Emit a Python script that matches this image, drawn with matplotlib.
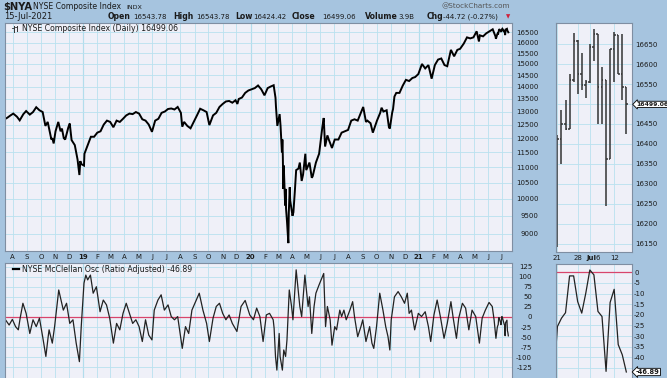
import matplotlib
matplotlib.use("Agg")
import matplotlib.pyplot as plt
import matplotlib.transforms as mtrans
import pandas as pd
from matplotlib.ticker import FixedLocator, NullLocator, FuncFormatter

W, H = 667, 378

# ---- NYSE Composite closes (irregular dates) ----
PRICE_2018 = [("07-17", 12730), ("07-20", 12760), ("07-27", 12850), ("08-02", 12920),
              ("08-10", 12800), ("08-16", 12660), ("08-24", 12900), ("08-30", 13020),
              ("09-07", 12880), ("09-14", 12980), ("09-21", 13170), ("09-28", 13050),
              ("10-05", 12980), ("10-11", 12450), ("10-16", 12600), ("10-19", 12350),
              ("10-24", 11950), ("10-26", 12000), ("10-29", 11810), ("11-02", 12250),
              ("11-08", 12600), ("11-13", 12250), ("11-16", 12350), ("11-20", 12000),
              ("11-23", 11950), ("11-30", 12400), ("12-03", 12540), ("12-07", 11930),
              ("12-14", 11750), ("12-20", 11250), ("12-24", 10740), ("12-26", 11200),
              ("12-28", 11100)]
PRICE_2019 = [("01-03", 11050), ("01-04", 11450), ("01-11", 11750), ("01-18", 12050),
              ("01-25", 12050), ("02-01", 12200), ("02-08", 12250), ("02-15", 12500),
              ("02-22", 12650), ("03-01", 12600), ("03-08", 12400), ("03-15", 12650),
              ("03-22", 12600), ("03-29", 12720), ("04-05", 12850), ("04-12", 12920),
              ("04-19", 12900), ("04-26", 12980), ("05-03", 12920), ("05-10", 12700),
              ("05-17", 12650), ("05-24", 12500), ("05-31", 12230), ("06-07", 12650),
              ("06-14", 12720), ("06-21", 12950), ("06-28", 13000), ("07-05", 13100),
              ("07-12", 13120), ("07-19", 13080), ("07-26", 13180), ("08-02", 12950),
              ("08-05", 12420), ("08-09", 12600), ("08-16", 12450), ("08-23", 12360),
              ("08-30", 12600), ("09-06", 12850), ("09-13", 13110), ("09-20", 13050),
              ("09-27", 12980), ("10-03", 12480), ("10-11", 12850), ("10-18", 12950),
              ("10-25", 13180), ("11-01", 13300), ("11-08", 13400), ("11-15", 13420),
              ("11-22", 13350), ("11-29", 13450), ("12-03", 13300), ("12-06", 13500),
              ("12-13", 13560), ("12-20", 13750), ("12-27", 13850)]
PRICE_2020 = [("01-03", 13900), ("01-10", 13950), ("01-17", 14060), ("01-24", 13900),
              ("01-31", 13650), ("02-07", 13950), ("02-14", 14020), ("02-20", 14070),
              ("02-24", 13550), ("02-25", 13200), ("02-27", 12700), ("02-28", 12450),
              ("03-04", 12900), ("03-06", 12450), ("03-09", 11500), ("03-10", 11950),
              ("03-11", 11350), ("03-12", 10300), ("03-13", 11050), ("03-16", 9800),
              ("03-17", 10300), ("03-18", 9700), ("03-20", 9350), ("03-23", 8750),
              ("03-24", 9600), ("03-26", 10350), ("03-27", 9950), ("04-01", 9500),
              ("04-03", 9600), ("04-06", 10200), ("04-09", 10900), ("04-14", 10950),
              ("04-17", 11150), ("04-21", 10550), ("04-24", 10750), ("04-29", 11450),
              ("05-01", 10900), ("05-08", 11150), ("05-13", 10650), ("05-15", 10700),
              ("05-22", 11150), ("05-29", 11450), ("06-05", 12400), ("06-08", 12750),
              ("06-11", 11700), ("06-16", 12100), ("06-19", 11950), ("06-26", 11650),
              ("07-02", 11950), ("07-10", 11950), ("07-17", 12200), ("07-24", 12250),
              ("07-31", 12300), ("08-07", 12650), ("08-14", 12700), ("08-21", 12650),
              ("08-28", 12950), ("09-02", 13180), ("09-08", 12600), ("09-11", 12650),
              ("09-18", 12550), ("09-23", 12200), ("10-02", 12650), ("10-09", 12950),
              ("10-12", 13150), ("10-16", 13000), ("10-23", 13050), ("10-28", 12400),
              ("10-30", 12350), ("11-04", 12950), ("11-06", 13100), ("11-09", 13600),
              ("11-13", 13750), ("11-20", 13750), ("11-27", 14050), ("12-04", 14300),
              ("12-11", 14250), ("12-18", 14380), ("12-24", 14420), ("12-31", 14550)]
PRICE_2021 = [("01-08", 15000), ("01-15", 14800), ("01-22", 14950), ("01-29", 14350),
              ("02-05", 14950), ("02-12", 15200), ("02-19", 15250), ("02-26", 14950),
              ("03-04", 14900), ("03-12", 15650), ("03-19", 15350), ("03-26", 15650),
              ("04-01", 15700), ("04-09", 15950), ("04-16", 16250), ("04-23", 16200),
              ("04-30", 16250), ("05-07", 16550), ("05-12", 16050), ("05-14", 16350),
              ("05-21", 16300), ("05-28", 16450), ("06-04", 16550), ("06-11", 16650),
              ("06-17", 16300), ("06-18", 16180)]

# ---- McClellan oscillator turning points ----
OSC_2018 = [("07-16", -7), ("07-24", -20), ("07-31", -6), ("08-07", -24), ("08-13", -32),
            ("08-17", -3), ("08-23", 34), ("08-30", 9), ("09-07", -41), ("09-14", -7),
            ("09-21", -24), ("09-28", -3), ("10-05", -49), ("10-12", -98), ("10-17", -49),
            ("10-19", -32), ("10-26", -65), ("10-31", -24), ("11-05", 26), ("11-09", 67),
            ("11-19", 17), ("11-26", 34), ("12-03", -16), ("12-10", -7), ("12-17", -65),
            ("12-24", -111), ("12-28", -24)]
OSC_2019 = [("01-03", 84), ("01-07", 104), ("01-11", 92), ("01-17", 104), ("01-23", 59),
            ("01-30", 75), ("02-07", 13), ("02-14", 42), ("02-21", 30), ("02-28", -3),
            ("03-08", -65), ("03-15", -16), ("03-22", -32), ("03-29", 9), ("04-05", 34),
            ("04-12", 9), ("04-19", -16), ("04-26", -7), ("05-03", -24), ("05-10", -61),
            ("05-17", -7), ("05-24", -45), ("05-31", -57), ("06-05", 17), ("06-13", 42),
            ("06-20", 55), ("06-27", 17), ("07-05", 30), ("07-12", 1), ("07-19", -7),
            ("07-26", 1), ("08-05", -78), ("08-12", -24), ("08-19", -41), ("08-26", 17),
            ("09-03", 38), ("09-11", 59), ("09-19", 17), ("09-27", -16), ("10-03", -61),
            ("10-11", -3), ("10-18", 26), ("10-25", 34), ("11-01", 9), ("11-08", -7),
            ("11-15", 5), ("11-22", -16), ("12-02", -36), ("12-11", 26), ("12-20", 41),
            ("12-30", 5)]
OSC_2020 = [("01-07", -7), ("01-14", 22), ("01-21", 1), ("01-28", -61), ("02-04", 5),
            ("02-11", 9), ("02-19", -7), ("02-21", -28), ("02-24", -98), ("02-27", -132),
            ("03-03", -41), ("03-05", -98), ("03-10", -132), ("03-13", -82), ("03-17", -98),
            ("03-20", -57), ("03-25", 67), ("03-30", 26), ("04-02", -7), ("04-09", 117),
            ("04-14", 59), ("04-17", 26), ("04-21", 1), ("04-28", 104), ("05-05", 26),
            ("05-08", 50), ("05-13", -41), ("05-18", 26), ("05-22", 59), ("05-29", 80),
            ("06-08", 108), ("06-12", -24), ("06-16", 26), ("06-22", -7), ("06-26", -70),
            ("07-02", -24), ("07-06", -32), ("07-13", 17), ("07-17", 1), ("07-22", 17),
            ("07-27", -7), ("08-04", 17), ("08-10", 38), ("08-14", 1), ("08-21", -49),
            ("08-28", -24), ("09-01", -7), ("09-08", -61), ("09-16", -24), ("09-21", -65),
            ("09-25", -78), ("10-01", -24), ("10-08", 59), ("10-15", 17), ("10-21", -24),
            ("10-26", -49), ("10-30", -82), ("11-02", -7), ("11-09", 50), ("11-17", 63),
            ("11-24", 50), ("12-01", 34), ("12-07", 59), ("12-11", 9), ("12-16", 17),
            ("12-23", -32), ("12-31", 9)]
OSC_2021 = [("01-07", 1), ("01-15", 13), ("01-22", -24), ("01-27", -61), ("02-03", 5),
            ("02-10", 42), ("02-17", 1), ("02-25", -53), ("03-04", -16), ("03-12", 38),
            ("03-17", -3), ("03-24", -53), ("03-29", -3), ("04-06", 34), ("04-13", 22),
            ("04-20", -32), ("04-27", 17), ("05-05", 1), ("05-13", -65), ("05-19", -3),
            ("05-26", 17), ("06-03", 36), ("06-10", 26), ("06-14", -7), ("06-18", -53)]

# ---- last 18 sessions (side panels) ----
RECENT_DAYS = ["2021-06-21", "2021-06-22", "2021-06-23", "2021-06-24", "2021-06-25",
               "2021-06-28", "2021-06-29", "2021-06-30", "2021-07-01", "2021-07-02",
               "2021-07-06", "2021-07-07", "2021-07-08", "2021-07-09", "2021-07-12",
               "2021-07-13", "2021-07-14", "2021-07-15"]
RECENT_OPEN = [16155, 16413, 16449, 16438, 16560, 16658, 16575, 16547, 16555, 16642,
               16675, 16543, 16560, 16361, 16637, 16673, 16575, 16543.78]
RECENT_HIGH = [16422, 16486, 16511, 16575, 16678, 16660, 16627, 16560, 16650, 16689,
               16676, 16593, 16560, 16637, 16681, 16673, 16676, 16543.78]
RECENT_LOW = [16142, 16349, 16435, 16438, 16555, 16525, 16535, 16516, 16552, 16608,
              16449, 16449, 16244, 16361, 16556, 16575, 16511, 16424.42]
RECENT_CLOSE = [16413, 16449, 16438, 16560, 16658, 16575, 16547, 16555, 16642, 16675,
                16543, 16560, 16361, 16637, 16673, 16575, 16543, 16499.06]
RECENT_OSC = [-25.5, -21.6, -19, -1.7, -1.7, -13.8, -19.2, -9.8, 1.1, -1.2,
              -18.4, -20.8, -46.6, -14.2, -8, -34, -38.8, -46.89]
PREV_OSC = -53          # 2021-06-18, just left of the side panel

PRICE_TICKS = list(range(9000, 16501, 500))
OSC_TICKS = list(range(-125, 126, 25))
SIDE_PRICE_TICKS = list(range(16150, 16651, 50))
SIDE_OSC_TICKS = list(range(-45, 1, 5))
HIDDEN_PRICE = 16500    # covered by the last-value box
HIDDEN_OSC = -45

BG = "#a6c4df"
PANEL = "#eff0f8"
GRID = "#b9e1ef"
YGRID = "#92c9e2"
FRAME = "#7f8ea2"
ZERO = "#d8456c"
TXT = "#1a1a1a"

plt.rcParams["font.family"] = "DejaVu Sans"
plt.rcParams["axes.unicode_minus"] = False


def unpack(year, pairs):
    return [pd.Timestamp(f"{year}-{d}") for d, _ in pairs], [v for _, v in pairs]


p_dates, p_vals = [], []
for yr, pairs in [(2018, PRICE_2018), (2019, PRICE_2019), (2020, PRICE_2020), (2021, PRICE_2021)]:
    d, v = unpack(yr, pairs)
    p_dates += d
    p_vals += v
recent_dates = [pd.Timestamp(d) for d in RECENT_DAYS]
p_dates += recent_dates
p_vals += RECENT_CLOSE

o_dates, o_vals = [], []
for yr, pairs in [(2018, OSC_2018), (2019, OSC_2019), (2020, OSC_2020), (2021, OSC_2021)]:
    d, v = unpack(yr, pairs)
    o_dates += d
    o_vals += v
o_dates += recent_dates
o_vals += RECENT_OSC


def box(x0, y0, x1, y1):
    return [x0 / W, 1 - y1 / H, (x1 - x0) / W, (y1 - y0) / H]


fig = plt.figure(figsize=(W / 100, H / 100), dpi=100)
fig.patch.set_facecolor(BG)

ax_p = fig.add_axes(box(5, 23, 512, 251))
ax_o = fig.add_axes(box(5, 263, 512, 382), sharex=ax_p)
ax_sp = fig.add_axes(box(556, 23, 632, 252))
ax_so = fig.add_axes(box(556, 264, 632, 382), sharex=ax_sp)

for ax in (ax_p, ax_o, ax_sp, ax_so):
    ax.set_facecolor(PANEL)
    for s in ax.spines.values():
        s.set_color(FRAME)
        s.set_linewidth(0.8)
    ax.set_axisbelow(True)
    ax.tick_params(length=0, labelsize=5, colors=TXT)

# ---------------- main price panel ----------------
ax_p.plot(p_dates, p_vals, color="black", lw=1.4, solid_joinstyle="miter")
ax_p.set_yscale("log")
ax_p.yaxis.set_major_locator(FixedLocator(PRICE_TICKS))
ax_p.yaxis.set_minor_locator(NullLocator())
ax_p.yaxis.set_major_formatter(FuncFormatter(lambda v, _: f"{v:.0f}"))
ax_p.set_ylim(8545, 16968)
ax_p.set_xlim(pd.Timestamp("2018-07-15"), pd.Timestamp("2021-07-23"))
ax_p.yaxis.tick_right()
ax_p.tick_params(axis="y", pad=19)
plt.setp(ax_p.get_yticklabels(), ha="right")

months = pd.date_range("2018-08-01", "2021-07-01", freq="MS")
ax_p.set_xticks(months)
ax_p.set_xticklabels([f"{m:%y}" if m.month == 1 else f"{m:%b}"[0] for m in months])
for lbl, m in zip(ax_p.get_xticklabels(), months):
    if m.month == 1:
        lbl.set_fontweight("bold")
ax_p.tick_params(axis="x", pad=2.5, labelsize=5)
ax_p.grid(True, color=GRID, lw=0.6)
for y in (2019, 2020, 2021):
    for ax in (ax_p, ax_o):
        ax.axvline(pd.Timestamp(f"{y}-01-01"), color=YGRID, lw=0.8, zorder=0.5)

ax_p.text(17 / 507, 1 - 5.5 / 228, "NYSE Composite Index (Daily) 16499.06",
          transform=ax_p.transAxes, fontsize=5.6, va="center", ha="left", color=TXT)
for dx, (lo, hi) in zip((8.5, 11.5), ((0.962, 0.985), (0.966, 0.988))):
    ax_p.plot([dx / 507] * 2, [lo, hi], transform=ax_p.transAxes, color="#333", lw=0.7)
    ax_p.plot([dx / 507 - 0.003, dx / 507], [hi - 0.006] * 2, transform=ax_p.transAxes,
              color="#333", lw=0.6)

# ---------------- oscillator panel ----------------
ax_o.plot(o_dates, o_vals, color="#222", lw=0.9)
ax_o.axhline(0, color=ZERO, lw=0.9, zorder=1.5)
ax_o.set_ylim(-161.5, 134)
ax_o.yaxis.set_major_locator(FixedLocator(OSC_TICKS))
ax_o.yaxis.tick_right()
ax_o.tick_params(axis="y", pad=14.5)
plt.setp(ax_o.get_yticklabels(), ha="right")
ax_o.tick_params(axis="x", labelbottom=False)
ax_o.grid(True, color=GRID, lw=0.6)
ax_o.text(17 / 507, 1 - 6.3 / 119, "NYSE McClellan Osc (Ratio Adjusted) -46.89",
          transform=ax_o.transAxes, fontsize=5.6, va="center", ha="left", color=TXT)
ax_o.plot([7.5 / 507, 13.5 / 507], [1 - 6.3 / 119] * 2, transform=ax_o.transAxes,
          color="black", lw=1.6)

# ---------------- side price panel ----------------
k = list(range(len(RECENT_DAYS)))
tick_w = 0.36
ax_sp.vlines(k, RECENT_LOW, RECENT_HIGH, color="#333", lw=1.1)
ax_sp.hlines(RECENT_OPEN, [i - tick_w for i in k], k, color="#333", lw=1.1)
ax_sp.hlines(RECENT_CLOSE, k, [i + tick_w for i in k], color="#333", lw=1.1)
ax_sp.set_xlim(-0.35, 18.4)
ax_sp.set_ylim(16129, 16703)
ax_sp.yaxis.set_major_locator(FixedLocator(SIDE_PRICE_TICKS))
ax_sp.yaxis.set_major_formatter(
    FuncFormatter(lambda v, _: "" if round(v) == HIDDEN_PRICE else f"{v:.0f}"))
ax_sp.yaxis.tick_right()
ax_sp.tick_params(axis="y", pad=2.5)
ax_sp.set_xticks([0, 5, 8, 14])
ax_sp.set_xticklabels(["", "", "", ""])
ax_sp.grid(True, color=GRID, lw=0.6)
tb = mtrans.blended_transform_factory(ax_sp.transData, ax_sp.transAxes)
for kx, s, w, ha in [(0, "21", "normal", "center"), (5, "28", "normal", "center"),
                     (9.55, "Jul", "bold", "right"), (10, "6", "normal", "center"),
                     (14, "12", "normal", "center")]:
    ax_sp.text(kx, -0.027, s, transform=tb, fontsize=5, fontweight=w, ha=ha, va="center",
               color=TXT, clip_on=False)
ax_sp.text(1.0, RECENT_CLOSE[-1], "16499.06",
           transform=mtrans.blended_transform_factory(ax_sp.transAxes, ax_sp.transData)
           + mtrans.ScaledTranslation(4 / 100, 0, fig.dpi_scale_trans),
           fontsize=4.4, fontweight="bold", ha="left", va="center", color=TXT, clip_on=False,
           bbox=dict(boxstyle="larrow,pad=0.1", fc="white", ec="black", lw=0.6))

# ---------------- side oscillator panel ----------------
ax_so.plot([-1] + k, [PREV_OSC] + RECENT_OSC, color="#222", lw=0.9)
ax_so.axhline(0, color=ZERO, lw=0.9, zorder=1.5)
ax_so.set_ylim(-51.6, 3.9)
ax_so.yaxis.set_major_locator(FixedLocator(SIDE_OSC_TICKS))
ax_so.yaxis.set_major_formatter(
    FuncFormatter(lambda v, _: "" if round(v) == HIDDEN_OSC else f"{v:.0f}"))
ax_so.yaxis.tick_right()
ax_so.tick_params(axis="y", pad=1.5)
ax_so.tick_params(axis="x", labelbottom=False)
ax_so.grid(True, color=GRID, lw=0.6)
ax_so.text(1.0, RECENT_OSC[-1], "-46.89",
           transform=mtrans.blended_transform_factory(ax_so.transAxes, ax_so.transData)
           + mtrans.ScaledTranslation(4 / 100, 0, fig.dpi_scale_trans),
           fontsize=4.8, fontweight="bold", ha="left", va="center", color=TXT, clip_on=False,
           bbox=dict(boxstyle="larrow,pad=0.1", fc="white", ec="black", lw=0.6))


# ---------------- header ----------------
def ftext(x, y, s, **kw):
    kw.setdefault("color", TXT)
    kw.setdefault("va", "center")
    fig.text(x / W, 1 - y / H, s, **kw)


ftext(3, 6.8, "$NYA", fontsize=7.2, fontweight="bold")
ftext(33, 6.8, "NYSE Composite Index", fontsize=5.6)
ftext(126, 7.2, "INDX", fontsize=4.6)
ftext(442, 6.5, "@StockCharts.com", fontsize=5.2, color="#555")
ftext(4, 16.8, "15-Jul-2021", fontsize=6.0)
for x, s, w in [(108, "Open", "bold"), (133, "16543.78", "normal"),
                (173, "High", "bold"), (196, "16543.78", "normal"),
                (235, "Low", "bold"), (253, "16424.42", "normal"),
                (292, "Close", "bold"), (322, "16499.06", "normal"),
                (365, "Volume", "bold"), (398, "3.9B", "normal"),
                (427, "Chg", "bold"), (443, "-44.72 (-0.27%)", "normal")]:
    ftext(x, 16.8, s, fontsize=5.6 if w == "bold" else 5.0, fontweight=w)
ftext(506, 17.2, "\u25bc", fontsize=4.0, color="#d0203a")

fig.savefig("out.png", dpi=100, facecolor=fig.get_facecolor())
